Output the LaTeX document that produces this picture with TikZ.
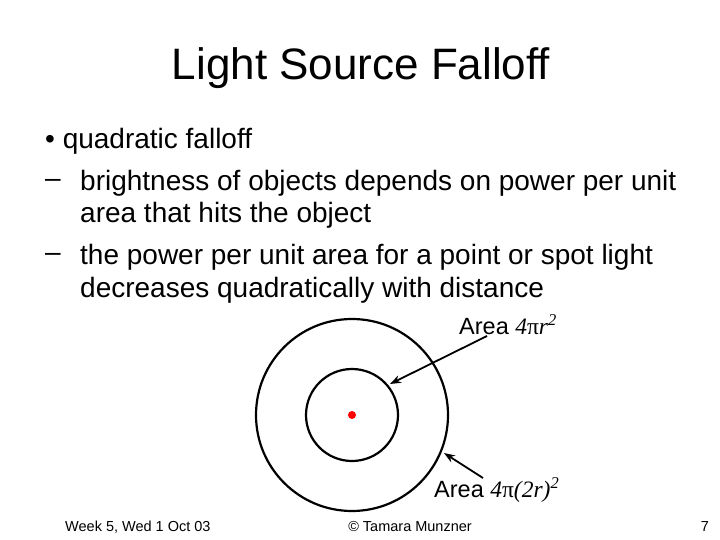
\documentclass[tikz,border=0pt]{standalone}
\usepackage{fontspec}
\setmainfont{Liberation Sans}
\newfontfamily\timesfont{Liberation Serif}
\usetikzlibrary{arrows.meta}
\begin{document}
\begin{tikzpicture}[x=1pt,y=-1pt]
		\tikzset{txt/.style={anchor=west, inner sep=0pt, font=\fontsize{28}{33}\selectfont},
			ring/.style={draw=black, line width=2.2pt},
			ptr/.style={-{Stealth[length=11pt,width=8pt]}, line width=1.8pt}};
		\useasboundingbox (0,0) rectangle (720,540);

		\node[font=\fontsize{44}{48}\selectfont] (title) at (361,68) {Light Source Falloff};
		\node[txt] (b1) at (45,141) {\textbullet\ quadratic falloff};
		\node[txt] (d1) at (45,183) {--};
		\node[txt] (s1) at (80,183) {brightness of objects depends on power per unit};
		\node[txt] (s1b) at (80,215) {area that hits the object};
		\node[txt] (d2) at (45,257) {--};
		\node[txt] (s2) at (80,257) {the power per unit area for a point or spot light};
		\node[txt] (s2b) at (80,290) {decreases quadratically with distance};

		\draw[ring] (352,415) circle (46);
		\draw[ring] (352,415) circle (96);
		\fill[red] (352,415) circle (4);

		\node[txt, font=\fontsize{23.5}{27}\selectfont] (a1) at (459,325) {Area {\timesfont\itshape 4{\upshape π}r\textsuperscript{2}}};
		\node[txt, font=\fontsize{23.5}{27}\selectfont] (a2) at (434,490) {Area {\timesfont\itshape 4{\upshape π}(2r)\textsuperscript{2}}};
		\coordinate (c1) at (390,384);
		\coordinate (c2) at (444,453);
		\draw[ptr] (487,336) to (c1);
		\draw[ptr] (483,478) to (c2);

		\node[txt, font=\fontsize{14.5}{17}\selectfont] (wk) at (65,527) {Week 5, Wed 1 Oct 03};
		\node[font=\fontsize{14.5}{17}\selectfont, inner sep=0pt] (cp) at (410,527) {\textcopyright\ Tamara Munzner};
		\node[font=\fontsize{14.5}{17}\selectfont, inner sep=0pt] (pg) at (705,527) {7};
\end{tikzpicture}
\end{document}
